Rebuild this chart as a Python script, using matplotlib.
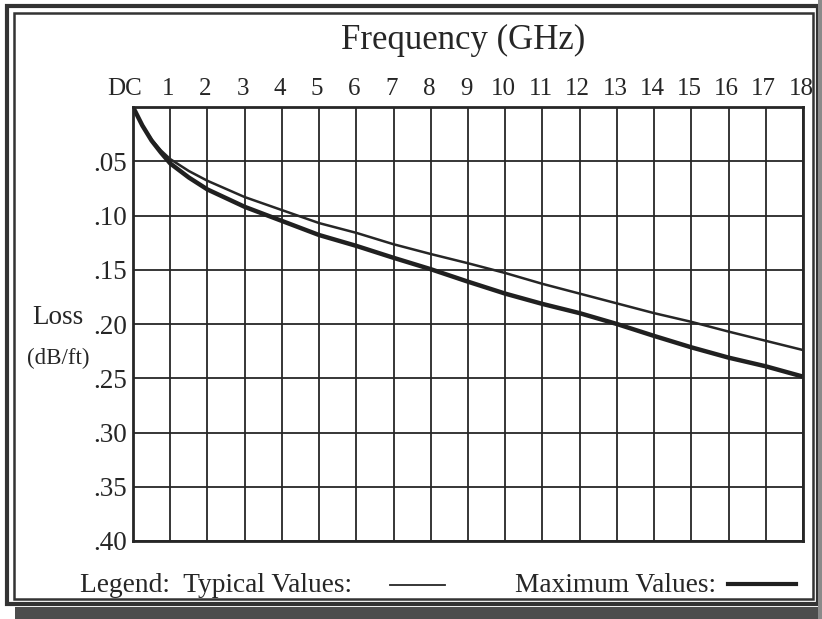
import numpy as np
import matplotlib.pyplot as plt
import matplotlib.transforms as mtransforms
from matplotlib.patches import Rectangle
from matplotlib.lines import Line2D

plt.rcParams['font.family'] = ['Liberation Serif', 'DejaVu Serif']

# frequency points (GHz) and loss (dB/ft)
freq = [0, 0.25, 0.5, 0.75, 1, 1.5, 2, 3, 4, 5, 6, 7, 8, 9, 10, 11, 12, 13, 14, 15, 16, 17, 18]
typical = [0, 0.017, 0.030, 0.040, 0.048, 0.059, 0.068, 0.083, 0.095, 0.107, 0.116, 0.1265, 0.1355,
           0.144, 0.153, 0.163, 0.172, 0.181, 0.190, 0.198, 0.207, 0.2155, 0.224]
maximum = [0, 0.017, 0.031, 0.042, 0.052, 0.065, 0.076, 0.092, 0.105, 0.118, 0.128, 0.139, 0.1495,
           0.161, 0.172, 0.1815, 0.190, 0.200, 0.211, 0.2215, 0.231, 0.239, 0.2485]

xticks = list(range(0, 19))
xlabels = ['DC'] + [str(i) for i in range(1, 19)]
yticks = [0.05, 0.10, 0.15, 0.20, 0.25, 0.30, 0.35, 0.40]
ylabels = ['.05', '.10', '.15', '.20', '.25', '.30', '.35', '.40']

W, H = 822, 619
fig = plt.figure(figsize=(W / 100, H / 100), dpi=100)
fig.patch.set_facecolor('white')

def fx(px):
    return px / W

def fy(py):
    return 1 - py / H

ax = fig.add_axes([fx(133), fy(541), fx(803) - fx(133), fy(107) - fy(541)])
ink = '#262626'

ax.plot(freq, typical, color=ink, lw=1.8, solid_joinstyle='round')
ax.plot(freq, maximum, color='#202020', lw=3.2, solid_joinstyle='round')

ax.set_xlim(0, 18)
ax.set_ylim(0.40, 0)
ax.set_xticks(xticks)
ax.set_xticklabels(xlabels)
ax.set_yticks(yticks)
ax.set_yticklabels(ylabels)
ax.xaxis.tick_top()
ax.tick_params(axis='both', length=0, colors=ink)
ax.tick_params(axis='x', pad=5, labelsize=18)
ax.tick_params(axis='y', pad=4, labelsize=19.5)
ax.grid(True, color=ink, lw=1.3)
ax.set_axisbelow(True)
for s in ax.spines.values():
    s.set_color(ink)
    s.set_linewidth(2.0)

# labels in the scan sit a little left of their grid lines
for i, lab in enumerate(ax.get_xticklabels()):
    dx = -8 if i == 0 else -2
    lab.set_transform(lab.get_transform() + mtransforms.ScaledTranslation(dx / 100, 0, fig.dpi_scale_trans))

fig.text(fx(463), fy(40), 'Frequency (GHz)', fontsize=25, ha='center', va='center', color=ink)
fig.text(fx(58), fy(317), 'Loss', fontsize=19.5, ha='center', va='center', color=ink)
fig.text(fx(58), fy(358), '(dB/ft)', fontsize=16.5, ha='center', va='center', color=ink)

# legend row at the bottom
fig.text(fx(80), fy(585), 'Legend:  Typical Values:', fontsize=19.7, ha='left', va='center', color=ink)
fig.text(fx(716), fy(585), 'Maximum Values:', fontsize=19.7, ha='right', va='center', color=ink)
fig.add_artist(Line2D([fx(390), fx(445)], [fy(585), fy(585)], color=ink, lw=1.3))
fig.add_artist(Line2D([fx(728), fx(796)], [fy(584), fy(584)], color='#202020', lw=3.0))

# double frame and scanned shadow band
fig.add_artist(Rectangle((fx(7), fy(604)), fx(818) - fx(7), fy(6) - fy(604),
                         fill=False, ec='#333333', lw=3.0))
fig.add_artist(Rectangle((fx(14), fy(599)), fx(813) - fx(14), fy(13) - fy(599),
                         fill=False, ec='#333333', lw=1.8))
fig.add_artist(Rectangle((fx(15), 0), fx(822) - fx(15), fy(607), color='#4d4d4d', lw=0))
fig.add_artist(Rectangle((fx(818), 0), fx(822) - fx(818), 1, color='#8a8a8a', lw=0))

fig.savefig('out.png', dpi=100)
